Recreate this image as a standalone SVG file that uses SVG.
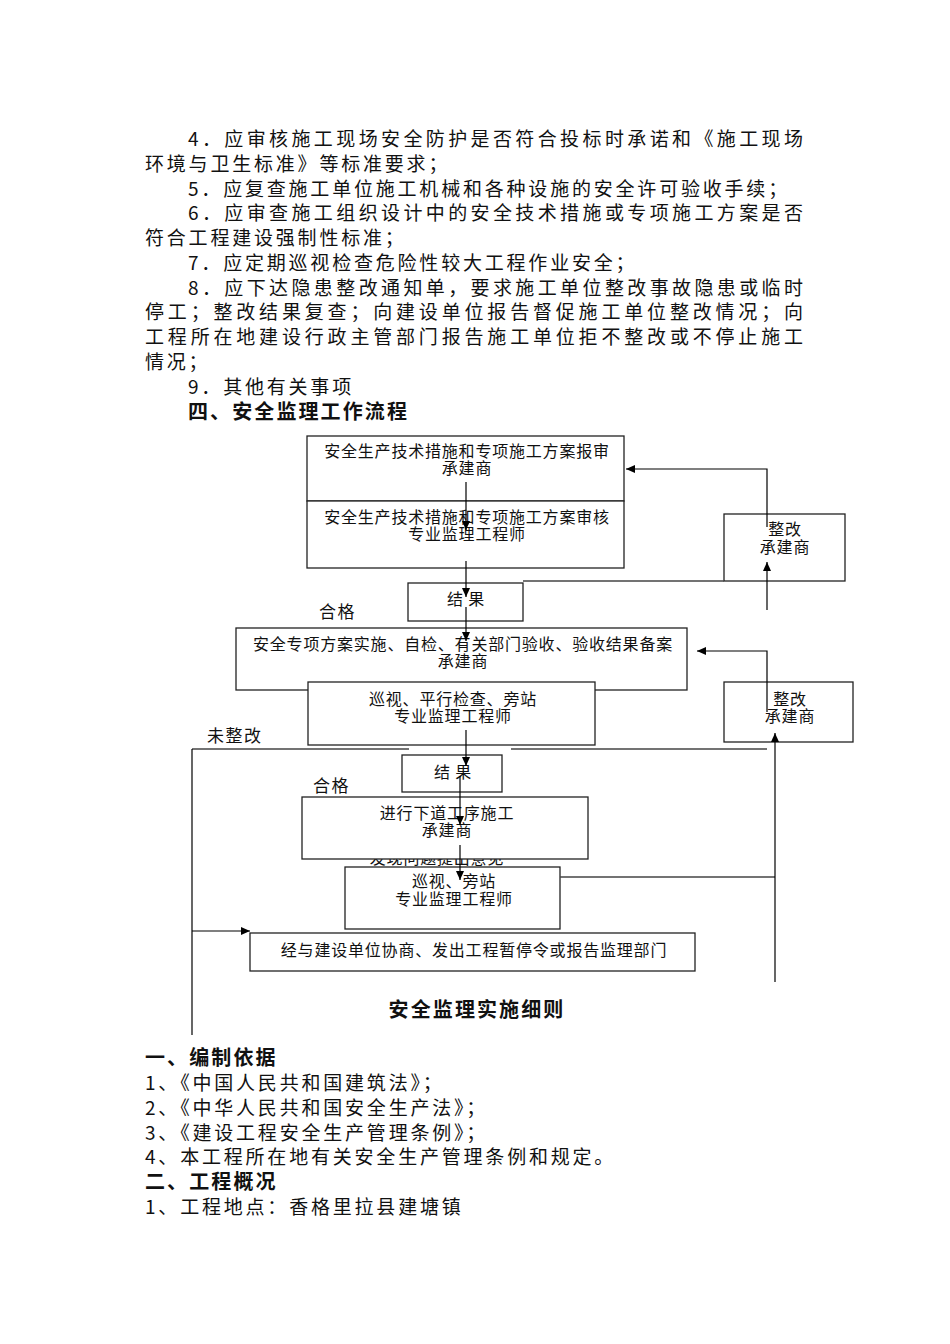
<svg xmlns="http://www.w3.org/2000/svg" width="950" height="1344" viewBox="0 0 950 1344">
<style>
text{font-family:"Noto Sans CJK SC","Noto Sans",sans-serif;fill:#111;}
.b{font-size:19px;letter-spacing:2.8px;}
.j{font-size:19px;}
.h{font-size:20px;font-weight:bold;letter-spacing:2.1px;}
.n{font-size:16px;letter-spacing:0.8px;text-anchor:middle;}
.l{font-size:17px;letter-spacing:1.5px;}
.box{fill:#fff;stroke:#222;stroke-width:1.3;}
.c{fill:none;stroke:#000;stroke-width:1.2;}
.g{fill:none;stroke:#444;stroke-width:1.5;}
</style>
<defs>
<marker id="ah" markerWidth="10" markerHeight="8" refX="9" refY="4" orient="auto" markerUnits="userSpaceOnUse"><path d="M0,0 L9,4 L0,8 z" fill="#000"/></marker>
</defs>
<rect width="950" height="1344" fill="#fff"/>
<g id="body-text">
<text class="j" x="188" y="146" textLength="615" lengthAdjust="spacing">4．应审核施工现场安全防护是否符合投标时承诺和《施工现场</text>
<text class="b" x="145" y="170.75">环境与卫生标准》等标准要求；</text>
<text class="b" x="188" y="195.5">5．应复查施工单位施工机械和各种设施的安全许可验收手续；</text>
<text class="j" x="188" y="220.25" textLength="615" lengthAdjust="spacing">6．应审查施工组织设计中的安全技术措施或专项施工方案是否</text>
<text class="b" x="145" y="245">符合工程建设强制性标准；</text>
<text class="b" x="188" y="269.75">7．应定期巡视检查危险性较大工程作业安全；</text>
<text class="j" x="188" y="294.5" textLength="615" lengthAdjust="spacing">8．应下达隐患整改通知单，要求施工单位整改事故隐患或临时</text>
<text class="j" x="145" y="319.25" textLength="658" lengthAdjust="spacing">停工；整改结果复查；向建设单位报告督促施工单位整改情况；向</text>
<text class="j" x="145" y="344" textLength="658" lengthAdjust="spacing">工程所在地建设行政主管部门报告施工单位拒不整改或不停止施工</text>
<text class="b" x="145" y="368.75">情况；</text>
<text class="b" x="188" y="393.5">9．其他有关事项</text>
<text class="h" x="188" y="418.5">四、安全监理工作流程</text>
</g>
<g id="labels">
<text class="l" x="319" y="617.5">合格</text>
<text class="l" x="207" y="741.5">未整改</text>
<text class="l" x="313" y="791.5">合格</text>
<text class="n" x="437" y="864">发现问题提出意见</text>
</g>
<g id="node-submit"><rect class="box" x="307" y="436" width="317" height="65"/><text class="n" x="467" y="456.7">安全生产技术措施和专项施工方案报审</text><text class="n" x="467" y="473.7">承建商</text></g>
<g id="node-review"><rect class="box" x="307" y="501" width="317" height="67"/><text class="n" x="467" y="523.3">安全生产技术措施和专项施工方案审核</text><text class="n" x="467" y="540">专业监理工程师</text></g>
<g id="node-result1"><rect class="box" x="408" y="583" width="115" height="38"/><text class="n" x="466" y="605.3">结 果</text></g>
<g id="node-fix1"><rect class="box" x="724" y="514" width="121" height="67"/><text class="n" x="785" y="535">整改</text><text class="n" x="785" y="553">承建商</text></g>
<g id="node-implement"><rect class="box" x="236" y="628" width="451" height="62"/><text class="n" x="463" y="650">安全专项方案实施、自检、有关部门验收、验收结果备案</text><text class="n" x="463" y="666.7">承建商</text></g>
<g id="node-inspect1"><rect class="box" x="308" y="682" width="287" height="63"/><text class="n" x="453" y="705">巡视、平行检查、旁站</text><text class="n" x="453" y="721.7">专业监理工程师</text></g>
<g id="node-fix2"><rect class="box" x="724" y="682" width="129" height="60"/><text class="n" x="790" y="705">整改</text><text class="n" x="790" y="721.7">承建商</text></g>
<g id="node-result2"><rect class="box" x="402" y="755" width="100" height="37"/><text class="n" x="453" y="777.7">结 果</text></g>
<g id="node-next"><rect class="box" x="302" y="797" width="286" height="62"/><text class="n" x="447" y="819.3">进行下道工序施工</text><text class="n" x="447" y="836">承建商</text></g>
<g id="node-inspect2"><rect class="box" x="345" y="867" width="215" height="62"/><text class="n" x="454" y="887">巡视、旁站</text><text class="n" x="454" y="905">专业监理工程师</text></g>
<g id="node-stop"><rect class="box" x="250" y="933" width="445" height="38"/><text class="n" x="474" y="956">经与建设单位协商、发出工程暂停令或报告监理部门</text></g>
<g id="connectors">
<line class="c" x1="466" y1="482" x2="466" y2="530" marker-end="url(#ah)"/>
<line class="c" x1="466" y1="561" x2="466" y2="597" marker-end="url(#ah)"/>
<line class="c" x1="466" y1="607" x2="466" y2="641" marker-end="url(#ah)"/>
<line class="g" x1="523" y1="581" x2="724" y2="581"/>
<line class="c" x1="767" y1="610" x2="767" y2="562" marker-end="url(#ah)"/>
<polyline class="c" points="767,527 767,469 626,469" marker-end="url(#ah)"/>
<polyline class="c" points="767,712 767,651 697,651" marker-end="url(#ah)"/>
<line class="g" x1="192" y1="749" x2="409" y2="749"/>
<line class="g" x1="511" y1="749" x2="767" y2="749"/>
<line class="c" x1="192" y1="749" x2="192" y2="1035"/>
<line class="c" x1="192" y1="931" x2="250" y2="931" marker-end="url(#ah)"/>
<line class="c" x1="466" y1="730" x2="466" y2="766" marker-end="url(#ah)"/>
<line class="c" x1="460" y1="776" x2="460" y2="825" marker-end="url(#ah)"/>
<line class="c" x1="460" y1="845" x2="460" y2="880" marker-end="url(#ah)"/>
<line class="g" x1="560" y1="877" x2="775" y2="877"/>
<line class="c" x1="775" y1="982" x2="775" y2="733" marker-end="url(#ah)"/>
</g>
<g id="bottom-text">
<text class="h" x="477" y="1017" text-anchor="middle">安全监理实施细则</text>
<text class="h" x="145" y="1065">一、编制依据</text>
<text class="b" x="145" y="1090">1、《中国人民共和国建筑法》；</text>
<text class="b" x="145" y="1114.75">2、《中华人民共和国安全生产法》；</text>
<text class="b" x="145" y="1139.5">3、《建设工程安全生产管理条例》；</text>
<text class="b" x="145" y="1164.25">4、本工程所在地有关安全生产管理条例和规定。</text>
<text class="h" x="145" y="1189">二、工程概况</text>
<text class="b" x="145" y="1213.75">1、工程地点：香格里拉县建塘镇</text>
</g>
</svg>
